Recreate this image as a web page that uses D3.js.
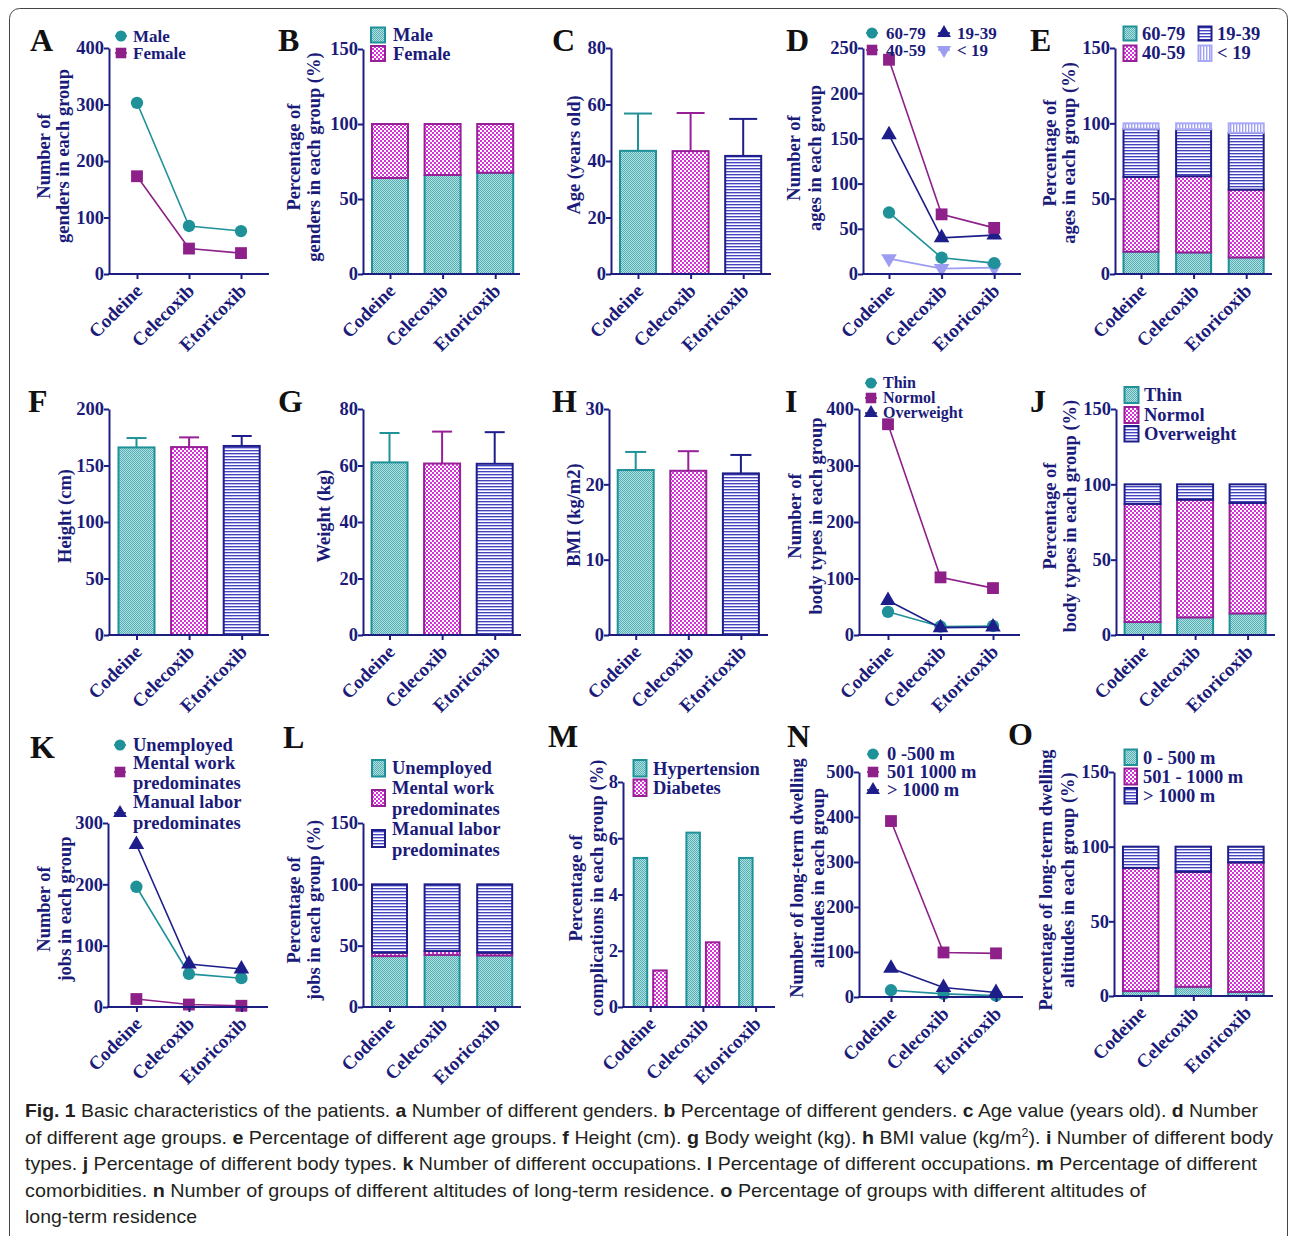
<!DOCTYPE html>
<html><head><meta charset="utf-8">
<script src="https://cdn.jsdelivr.net/npm/d3@7"></script>
<style>
body{margin:0;background:#fff}
svg{display:block}
text.serif{font-family:"Liberation Serif","Times New Roman",serif;}
</style>
</head><body><svg id="c" width="1292" height="1236"></svg>
<script>
// ---------------- DATA ----------------
const categories = ["Codeine", "Celecoxib", "Etoricoxib"];
// A: number of genders
const genderMale = [303, 85, 76];
const genderFemale = [173, 45, 37];
// B: percentage of genders
const genderMalePct = [64, 66, 67.5];
const genderFemalePct = [36, 34, 32.5];
// C: age mean / SD
const ageMean = [43.6, 43.5, 41.8];
const ageSD = [13.2, 13.5, 13.1];
// D: number per age group
const age6079 = [68, 18, 12];
const age4059 = [237, 66, 51];
const age1939 = [154, 40, 43];
const ageUnder19 = [17, 6, 7];
// E: percentage per age group
const age6079Pct = [14.8, 14.3, 11.0];
const age4059Pct = [49.6, 50.6, 45.0];
const age1939Pct = [32.0, 31.2, 37.7];
const ageUnder19Pct = [3.6, 3.9, 6.3];
// F, G, H
const heightMean = [166.0, 166.3, 167.3];
const heightSD = [8.3, 8.6, 8.8];
const weightMean = [61.1, 60.7, 60.6];
const weightSD = [10.4, 11.3, 11.2];
const bmiMean = [21.9, 21.8, 21.45];
const bmiSD = [2.4, 2.6, 2.45];
// I: body types
const bodyThin = [41, 15, 16];
const bodyNormol = [373, 102, 83];
const bodyOverweight = [61, 13, 14];
// J
const bodyThinPct = [8.6, 11.7, 14.3];
const bodyNormolPct = [78.4, 78.1, 73.3];
const bodyOverweightPct = [13.0, 10.2, 12.4];
// K: jobs
const jobUnemployed = [196, 54, 47];
const jobMental = [13, 4, 2];
const jobManual = [265, 70, 62];
// L
const jobUnemployedPct = [41.5, 42.5, 42.0];
const jobMentalPct = [2.8, 3.1, 2.2];
const jobManualPct = [55.7, 54.4, 55.8];
// M: comorbidities
const hypertensionPct = [5.3, 6.2, 5.3];
const diabetesPct = [1.3, 2.3, 0];
// N: altitudes
const alt0to500 = [15, 7, 3];
const alt501to1000 = [391, 99, 97];
const altOver1000 = [64, 21, 10];
// O
const alt0to500Pct = [3.3, 6.2, 2.7];
const alt501to1000Pct = [82.5, 76.9, 86.7];
const altOver1000Pct = [14.2, 16.9, 10.6];
// tick labels
const ticksA = [0, 100, 200, 300, 400];
const ticksPct = [0, 50, 100, 150];
const ticksC = [0, 20, 40, 60, 80];
const ticksD = [0, 50, 100, 150, 200, 250];
const ticksF = [0, 50, 100, 150, 200];
const ticksG = [0, 20, 40, 60, 80];
const ticksH = [0, 10, 20, 30];
const ticksI = [0, 100, 200, 300, 400];
const ticksK = [0, 100, 200, 300];
const ticksM = [0, 2, 4, 6, 8];
const ticksN = [0, 100, 200, 300, 400, 500];

// ---------------- STYLE ----------------
const NAVY = "#1e1e82";
const TXT = "#1b1b7a";
const FS = 18.5;
const S = {
  teal:  {stroke: "#1f9199", fill: "url(#pTeal)", line: "#1f9199", sym: d3.symbolCircle, size: 120},
  mag:   {stroke: "#971f97", fill: "url(#pMag)",  line: "#8d2089", sym: d3.symbolSquare, size: 140},
  navy:  {stroke: "#1e1e8a", fill: "url(#pNavy)", line: "#1e1e8a", sym: d3.symbolTriangle, size: 105},
  lav:   {stroke: "#a9a9f7", fill: "url(#pLav)",  line: "#9c9cf3", sym: d3.symbolTriangle, size: 105, flip: true}
};

const svg = d3.select("#c");
const defs = svg.append("defs");
function pattern(id, w, h, bg, rects) {
  const p = defs.append("pattern").attr("id", id).attr("patternUnits", "userSpaceOnUse")
    .attr("width", w).attr("height", h);
  p.append("rect").attr("width", w).attr("height", h).attr("fill", bg);
  rects.forEach(r => p.append("rect").attr("x", r[0]).attr("y", r[1]).attr("width", r[2]).attr("height", r[3]).attr("fill", r[4]));
}
pattern("pTeal", 2, 2, "#b0e0e0", [[0,0,1,1,"#55aeb4"],[1,1,1,1,"#55aeb4"]]);
pattern("pMag", 4, 4, "#ffffff", [[0,0,2,2,"#d431d4"],[2,2,2,2,"#d431d4"]]);
pattern("pNavy", 4, 3, "#ffffff", [[0,0,4,1,"#4343bb"],[0,1,4,1,"#b9b9ee"]]);
pattern("pLav", 3, 4, "#ffffff", [[0,0,1,4,"#9e9ef5"],[1,0,1,4,"#dcdcfc"]]);

// figure border
svg.append("rect").attr("x", 9.5).attr("y", 8.5).attr("width", 1278).attr("height", 1300)
  .attr("rx", 10).attr("fill", "none").attr("stroke", "#444").attr("stroke-width", 1);

// ---------------- HELPERS ----------------
function panel(o) {
  const off = o.off ?? 27, step = o.step ?? 52.6;
  const x = d3.scalePoint().domain(categories).range([o.ax + off, o.ax + off + 2 * step]);
  const y = d3.scaleLinear().domain([0, o.max]).range([o.y0, o.y1]);
  const g = svg.append("g");
  const marks = g.append("g");
  const axes = g.append("g");
  const ya = axes.append("g").attr("transform", `translate(${o.ax},0)`)
    .call(d3.axisLeft(y).tickValues(o.ticks).tickSize(5).tickSizeOuter(0).tickPadding(0).tickFormat(d3.format("d")));
  ya.select(".domain").attr("stroke", NAVY).attr("stroke-width", 2);
  ya.selectAll(".tick line").attr("stroke", NAVY).attr("stroke-width", 2);
  ya.selectAll(".tick text").attr("class", "serif").attr("fill", TXT).attr("font-size", FS).attr("font-weight", "bold");
  const xa = axes.append("g").attr("transform", `translate(0,${o.y0})`)
    .call(d3.axisBottom(x).tickSize(5).tickSizeOuter(0));
  xa.select(".domain").remove();
  xa.append("line").attr("x1", o.ax - 1).attr("x2", o.ax + o.len).attr("stroke", NAVY).attr("stroke-width", 2);
  xa.selectAll(".tick line").attr("stroke", NAVY).attr("stroke-width", 2);
  xa.selectAll(".tick text").attr("class", "serif").attr("fill", TXT).attr("font-size", 19).attr("font-weight", "bold")
    .attr("x", 0).attr("y", 0).attr("dy", 0).attr("text-anchor", "end")
    .attr("transform", "translate(6,18) rotate(-45)");
  // letter
  svg.append("text").attr("class", "serif").attr("x", o.lx).attr("y", o.ly).text(o.letter)
    .attr("font-size", 32).attr("font-weight", "bold").attr("fill", "#111");
  // y title
  o.title.forEach((t, i) => {
    svg.append("text").attr("class", "serif").attr("transform", `translate(${o.tx[i]},${o.ty}) rotate(-90)`)
      .attr("text-anchor", "middle").attr("font-size", FS).attr("font-weight", "bold")
      .attr("fill", TXT).text(t);
  });
  return {g: marks, x, y};
}

function symbolPath(st) {
  return d3.symbol().type(st.sym).size(st.size)();
}

function lineSeries(p, vals, st) {
  const line = d3.line().x((d, i) => p.x(categories[i])).y(d => p.y(d));
  p.g.append("path").attr("d", line(vals)).attr("fill", "none").attr("stroke", st.line).attr("stroke-width", 1.6);
  p.g.selectAll(null).data(vals).enter().append("path")
    .attr("d", symbolPath(st))
    .attr("transform", (d, i) => `translate(${p.x(categories[i])},${p.y(d)})${st.flip ? " rotate(180)" : ""}`)
    .attr("fill", st.line);
}

function barsErr(p, means, sds, styles, w, cap) {
  means.forEach((m, i) => {
    const cx = p.x(categories[i]), st = styles[i];
    const top = p.y(m + sds[i]);
    p.g.append("line").attr("x1", cx).attr("x2", cx).attr("y1", p.y(m)).attr("y2", top)
      .attr("stroke", st.stroke).attr("stroke-width", 2);
    p.g.append("line").attr("x1", cx - cap / 2).attr("x2", cx + cap / 2).attr("y1", top).attr("y2", top)
      .attr("stroke", st.stroke).attr("stroke-width", 2);
    p.g.append("rect").attr("x", cx - w / 2).attr("width", w).attr("y", p.y(m)).attr("height", p.y(0) - p.y(m))
      .attr("fill", st.fill).attr("stroke", st.stroke).attr("stroke-width", 2);
  });
}

function stacked(p, series, styles, w) {
  categories.forEach((c, i) => {
    let base = 0;
    series.forEach((s, k) => {
      const v = s[i];
      p.g.append("rect").attr("x", p.x(c) - w / 2).attr("width", w)
        .attr("y", p.y(base + v)).attr("height", p.y(base) - p.y(base + v))
        .attr("fill", styles[k].fill).attr("stroke", styles[k].stroke).attr("stroke-width", 2);
      base += v;
    });
  });
}

function grouped(p, series, styles, w, gap) {
  categories.forEach((c, i) => {
    const n = series.length;
    const total = n * w + (n - 1) * gap;
    series.forEach((s, k) => {
      const v = s[i];
      if (v <= 0) return;
      const x0 = p.x(c) - total / 2 + k * (w + gap);
      p.g.append("rect").attr("x", x0).attr("width", w).attr("y", p.y(v)).attr("height", p.y(0) - p.y(v))
        .attr("fill", styles[k].fill).attr("stroke", styles[k].stroke).attr("stroke-width", 2);
    });
  });
}

function legendText(x, y, t, fs) {
  svg.append("text").attr("class", "serif").attr("x", x).attr("y", y).attr("dy", "0.34em").text(t)
    .attr("font-size", fs || FS).attr("font-weight", "bold").attr("fill", TXT);
}
function markerLegend(mx, my, st) {
  svg.append("line").attr("x1", mx - 6).attr("x2", mx + 6).attr("y1", my).attr("y2", my)
    .attr("stroke", st.line).attr("stroke-width", 1.6);
  svg.append("path").attr("d", d3.symbol().type(st.sym).size(st.size * 0.8)())
    .attr("transform", `translate(${mx},${my})${st.flip ? " rotate(180)" : ""}`).attr("fill", st.line);
}
function boxLegend(bx, by, bw, bh, st) {
  svg.append("rect").attr("x", bx).attr("y", by).attr("width", bw).attr("height", bh)
    .attr("fill", st.fill).attr("stroke", st.stroke).attr("stroke-width", 2);
}

// ---------------- ROW 1 ----------------
{
  const p = panel({ax: 109, len: 160, y0: 274, y1: 48, max: 400, ticks: ticksA, off: 28, step: 52,
    letter: "A", lx: 30, ly: 51, title: ["Number of", "genders in each group"], tx: [50, 69], ty: 156});
  lineSeries(p, genderFemale, S.mag);
  lineSeries(p, genderMale, S.teal);
  markerLegend(121, 36, S.teal); legendText(133, 36, "Male", 17);
  markerLegend(121, 53, S.mag); legendText(133, 53, "Female", 17);
}
{
  const p = panel({ax: 363, len: 157, y0: 274, y1: 49, max: 150, ticks: ticksPct,
    letter: "B", lx: 278, ly: 51, title: ["Percentage of", "genders in each group (%)"], tx: [300, 320], ty: 157});
  stacked(p, [genderMalePct, genderFemalePct], [S.teal, S.mag], 36);
  boxLegend(371, 27.5, 14, 15, S.teal); legendText(393, 35, "Male");
  boxLegend(371, 46, 14, 15, S.mag); legendText(393, 54, "Female");
}
{
  const p = panel({ax: 611, len: 160, y0: 274, y1: 48, max: 80, ticks: ticksC,
    letter: "C", lx: 552, ly: 51, title: ["Age  (years old)"], tx: [580], ty: 155});
  barsErr(p, ageMean, ageSD, [S.teal, S.mag, S.navy], 36, 28);
}
{
  const p = panel({ax: 863, len: 158, y0: 274, y1: 48, max: 250, ticks: ticksD, off: 26,
    letter: "D", lx: 786, ly: 51, title: ["Number of", "ages in each group"], tx: [800, 821], ty: 158});
  lineSeries(p, ageUnder19, S.lav);
  lineSeries(p, age6079, S.teal);
  lineSeries(p, age1939, S.navy);
  lineSeries(p, age4059, S.mag);
  markerLegend(872, 33, S.teal); legendText(886, 33, "60-79", 17);
  markerLegend(944, 33, S.navy); legendText(957, 33, "19-39", 17);
  markerLegend(872, 50, S.mag); legendText(886, 50, "40-59", 17);
  markerLegend(944, 50, S.lav); legendText(957, 50, "< 19", 17);
}
{
  const p = panel({ax: 1115, len: 157, y0: 274, y1: 48, max: 150, ticks: ticksPct, off: 26,
    letter: "E", lx: 1030, ly: 51, title: ["Percentage of", "ages in each group (%)"], tx: [1056, 1075], ty: 153});
  stacked(p, [age6079Pct, age4059Pct, age1939Pct, ageUnder19Pct], [S.teal, S.mag, S.navy, S.lav], 35);
  boxLegend(1123.5, 26.5, 13, 14, S.teal); legendText(1142, 34, "60-79");
  boxLegend(1198.5, 26.5, 13, 14, S.navy); legendText(1217, 34, "19-39");
  boxLegend(1123.5, 45.5, 13, 15.5, S.mag); legendText(1142, 53, "40-59");
  boxLegend(1198.5, 45.5, 13, 15.5, S.lav); legendText(1217, 53, "< 19");
}
// ---------------- ROW 2 ----------------
{
  const p = panel({ax: 109, len: 160, y0: 635, y1: 409, max: 200, ticks: ticksF, off: 27.5,
    letter: "F", lx: 28, ly: 412, title: ["Height (cm)"], tx: [71], ty: 516});
  barsErr(p, heightMean, heightSD, [S.teal, S.mag, S.navy], 36, 20);
}
{
  const p = panel({ax: 363, len: 158, y0: 635, y1: 409, max: 80, ticks: ticksG, off: 26.5,
    letter: "G", lx: 278, ly: 412, title: ["Weight (kg)"], tx: [330], ty: 516});
  barsErr(p, weightMean, weightSD, [S.teal, S.mag, S.navy], 36, 20);
}
{
  const p = panel({ax: 609, len: 159, y0: 635, y1: 409, max: 30, ticks: ticksH, off: 26.7,
    letter: "H", lx: 552, ly: 412, title: ["BMI (kg/m2)"], tx: [580], ty: 515});
  barsErr(p, bmiMean, bmiSD, [S.teal, S.mag, S.navy], 36, 21);
}
{
  const p = panel({ax: 859, len: 161, y0: 635, y1: 409, max: 400, ticks: ticksI, off: 29, step: 52.5,
    letter: "I", lx: 785, ly: 412, title: ["Number of", "body types in each group"], tx: [801, 822], ty: 516});
  lineSeries(p, bodyThin, S.teal);
  lineSeries(p, bodyOverweight, S.navy);
  lineSeries(p, bodyNormol, S.mag);
  markerLegend(871, 383, S.teal); legendText(883, 383, "Thin", 16);
  markerLegend(871, 398, S.mag); legendText(883, 398, "Normol", 16);
  markerLegend(871, 413, S.navy); legendText(883, 413, "Overweight", 16);
}
{
  const p = panel({ax: 1116, len: 159, y0: 635, y1: 409, max: 150, ticks: ticksPct, off: 26.6, step: 52.5,
    letter: "J", lx: 1030, ly: 412, title: ["Percentage of", "body types in each group (%)"], tx: [1056, 1076], ty: 516});
  stacked(p, [bodyThinPct, bodyNormolPct, bodyOverweightPct], [S.teal, S.mag, S.navy], 36);
  boxLegend(1124.5, 387, 14, 16, S.teal); legendText(1144, 395, "Thin");
  boxLegend(1124.5, 407, 14, 16, S.mag); legendText(1144, 415, "Normol");
  boxLegend(1124.5, 426, 14, 15.5, S.navy); legendText(1144, 434, "Overweight");
}
// ---------------- ROW 3 ----------------
{
  const p = panel({ax: 108, len: 160, y0: 1007, y1: 823, max: 300, ticks: ticksK, off: 28.4, step: 52.5,
    letter: "K", lx: 30, ly: 758, title: ["Number of", "jobs in each group"], tx: [50, 71], ty: 909});
  lineSeries(p, jobMental, S.mag);
  lineSeries(p, jobUnemployed, S.teal);
  lineSeries(p, jobManual, S.navy);
  markerLegend(120, 745, S.teal); legendText(133, 745, "Unemployed");
  markerLegend(120, 772, S.mag); legendText(133, 763, "Mental work"); legendText(133, 783, "predominates");
  markerLegend(120, 813, S.navy); legendText(133, 802, "Manual labor"); legendText(133, 823, "predominates");
}
{
  const p = panel({ax: 363, len: 158, y0: 1007, y1: 823, max: 150, ticks: ticksPct, off: 26.5,
    letter: "L", lx: 283, ly: 748, title: ["Percentage of", "jobs in each group (%)"], tx: [300, 320], ty: 910});
  stacked(p, [jobUnemployedPct, jobMentalPct, jobManualPct], [S.teal, S.mag, S.navy], 35);
  boxLegend(372, 760, 13, 16.5, S.teal); legendText(392, 768, "Unemployed");
  boxLegend(372, 790, 13, 16, S.mag); legendText(392, 788, "Mental work"); legendText(392, 809, "predominates");
  boxLegend(372, 830, 13, 17, S.navy); legendText(392, 829, "Manual labor"); legendText(392, 850, "predominates");
}
{
  const p = panel({ax: 623, len: 152, y0: 1007, y1: 782, max: 8, ticks: ticksM, off: 27.2, step: 52.7,
    letter: "M", lx: 548, ly: 747, title: ["Percentage of", "complications in each group (%)"], tx: [582, 603], ty: 888});
  grouped(p, [hypertensionPct, diabetesPct], [S.teal, S.mag], 13.5, 6);
  boxLegend(633.5, 760, 13, 16.5, S.teal); legendText(653, 769, "Hypertension");
  boxLegend(633.5, 779.5, 13, 16.5, S.mag); legendText(653, 788, "Diabetes");
}
{
  const p = panel({ax: 859, len: 164, y0: 997, y1: 772, max: 500, ticks: ticksN, off: 32, step: 52.5,
    letter: "N", lx: 787, ly: 747, title: ["Number of long-term dwelling", "altitudes in each group"], tx: [803, 824], ty: 878});
  lineSeries(p, alt0to500, S.teal);
  lineSeries(p, altOver1000, S.navy);
  lineSeries(p, alt501to1000, S.mag);
  markerLegend(873, 754, S.teal); legendText(887, 754, "0 -500 m");
  markerLegend(873, 772, S.mag); legendText(887, 772, "501 1000 m");
  markerLegend(873, 790, S.navy); legendText(887, 790, "> 1000 m");
}
{
  const p = panel({ax: 1114, len: 159, y0: 996, y1: 772, max: 150, ticks: ticksPct, off: 26.7, step: 52.6,
    letter: "O", lx: 1008, ly: 745, title: ["Percentage of long-term dwelling", "altitudes in each group (%)"], tx: [1052, 1074], ty: 880});
  stacked(p, [alt0to500Pct, alt501to1000Pct, altOver1000Pct], [S.teal, S.mag, S.navy], 35.5);
  boxLegend(1124.5, 749.5, 12.5, 15.5, S.teal); legendText(1143, 758, "0 - 500 m");
  boxLegend(1124.5, 768.5, 12.5, 16, S.mag); legendText(1143, 777, "501 - 1000 m");
  boxLegend(1124.5, 788, 12.5, 15.5, S.navy); legendText(1143, 796, "> 1000 m");
}

// ---------------- CAPTION ----------------
const captionLines = [
  [["Fig. 1", 1], [" Basic characteristics of the patients. ", 0], ["a", 1], [" Number of different genders. ", 0], ["b", 1], [" Percentage of different genders. ", 0], ["c", 1], [" Age value (years old). ", 0], ["d", 1], [" Number", 0]],
  [["of different age groups. ", 0], ["e", 1], [" Percentage of different age groups. ", 0], ["f", 1], [" Height (cm). ", 0], ["g", 1], [" Body weight (kg). ", 0], ["h", 1], [" BMI value (kg/m", 0], ["2", 2], ["). ", 3], ["i", 1], [" Number of different body", 0]],
  [["types. ", 0], ["j", 1], [" Percentage of different body types. ", 0], ["k", 1], [" Number of different occupations. ", 0], ["l", 1], [" Percentage of different occupations. ", 0], ["m", 1], [" Percentage of different", 0]],
  [["comorbidities. ", 0], ["n", 1], [" Number of groups of different altitudes of long-term residence. ", 0], ["o", 1], [" Percentage of groups with different altitudes of", 0]],
  [["long-term residence", 0]]
];
const capEnds = [1258, 1273, 1257, 1146, 197];
const capY = [1117, 1144, 1170, 1197, 1223];
captionLines.forEach((segs, li) => {
  const t = svg.append("text").attr("x", 25).attr("y", capY[li])
    .style("font-family", "'Liberation Sans Narrow', 'Liberation Sans', Arial, sans-serif")
    .attr("font-size", 19).attr("fill", "#231f20").style("white-space", "pre")
    .attr("textLength", capEnds[li] - 25).attr("lengthAdjust", "spacingAndGlyphs");
  segs.forEach(([s, b]) => {
    const ts = t.append("tspan").text(s);
    if (b === 1) ts.attr("font-weight", "bold");
    if (b === 2) ts.attr("font-size", 12).attr("dy", -7);
    if (b === 3) ts.attr("dy", 7);
  });
});
</script>
</body></html>
